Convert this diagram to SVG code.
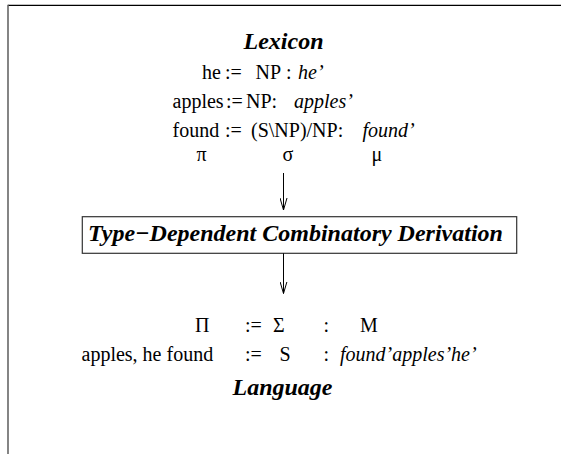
<svg xmlns="http://www.w3.org/2000/svg" width="561" height="454" viewBox="0 0 561 454">
<style>
  text { font-family: "Liberation Serif", "Times New Roman", serif; font-size: 20px; fill: #000; }
  .title { font-size: 24px; font-weight: bold; font-style: italic; }
  .it { font-style: italic; }
  .box { fill: #fff; stroke: #333; stroke-width: 1.2; }
  .conn { stroke: #000; stroke-width: 1; fill: none; }
</style>
<defs>
  <marker id="vhead" markerWidth="14" markerHeight="8" refX="12" refY="4" orient="auto" markerUnits="userSpaceOnUse" viewBox="0 0 14 8">
    <path d="M0,0.5 L12,4 L0,7.5" fill="none" stroke="#000" stroke-width="1"/>
  </marker>
</defs>
<rect x="0" y="0" width="561" height="454" fill="#fff"/>
<g id="frame">
  <line x1="8" y1="5.3" x2="561" y2="5.3" stroke="#000" stroke-width="1.3"/>
  <line x1="8" y1="4.7" x2="8" y2="454" stroke="#666" stroke-width="1.6"/>
</g>
<g id="lexicon">
  <text class="title" x="283.5" y="48.5" text-anchor="middle">Lexicon</text>
  <text x="202" y="79">he</text>
  <text x="225" y="79">:=</text>
  <text x="255.5" y="79">NP</text>
  <text x="286" y="79">:</text>
  <text class="it" x="298" y="79">he’</text>
  <text x="172.5" y="107.5">apples</text>
  <text x="226" y="107.5">:=</text>
  <text x="246" y="107.5">NP:</text>
  <text class="it" x="294" y="107.5">apples’</text>
  <text x="172.5" y="136.5">found</text>
  <text x="225" y="136.5">:=</text>
  <text x="251" y="136.5">(S\NP)/NP:</text>
  <text class="it" x="362.5" y="136.5">found’</text>
  <text x="196.5" y="161">π</text>
  <text x="282.5" y="161">σ</text>
  <text x="371.5" y="161">μ</text>
</g>
<g id="derivation">
  <rect class="box" x="82.3" y="216.7" width="434.4" height="36.6"/>
  <text class="title" x="88" y="241">Type−Dependent Combinatory Derivation</text>
</g>
<g id="language">
  <text x="195" y="332">Π</text>
  <text x="245" y="332">:=</text>
  <text x="273" y="332">Σ</text>
  <text x="323.5" y="332">:</text>
  <text x="360" y="332">M</text>
  <text x="81.5" y="361">apples, he found</text>
  <text x="245" y="361">:=</text>
  <text x="279.5" y="361">S</text>
  <text x="323.5" y="361">:</text>
  <text class="it" x="340" y="361">found’apples’he’</text>
  <text class="title" x="282.5" y="395" text-anchor="middle">Language</text>
</g>
<g id="connectors">
  <line class="conn" x1="283.5" y1="173" x2="283.5" y2="210" marker-end="url(#vhead)"/>
  <line class="conn" x1="283.5" y1="253.3" x2="283.5" y2="293.5" marker-end="url(#vhead)"/>
</g>
</svg>
